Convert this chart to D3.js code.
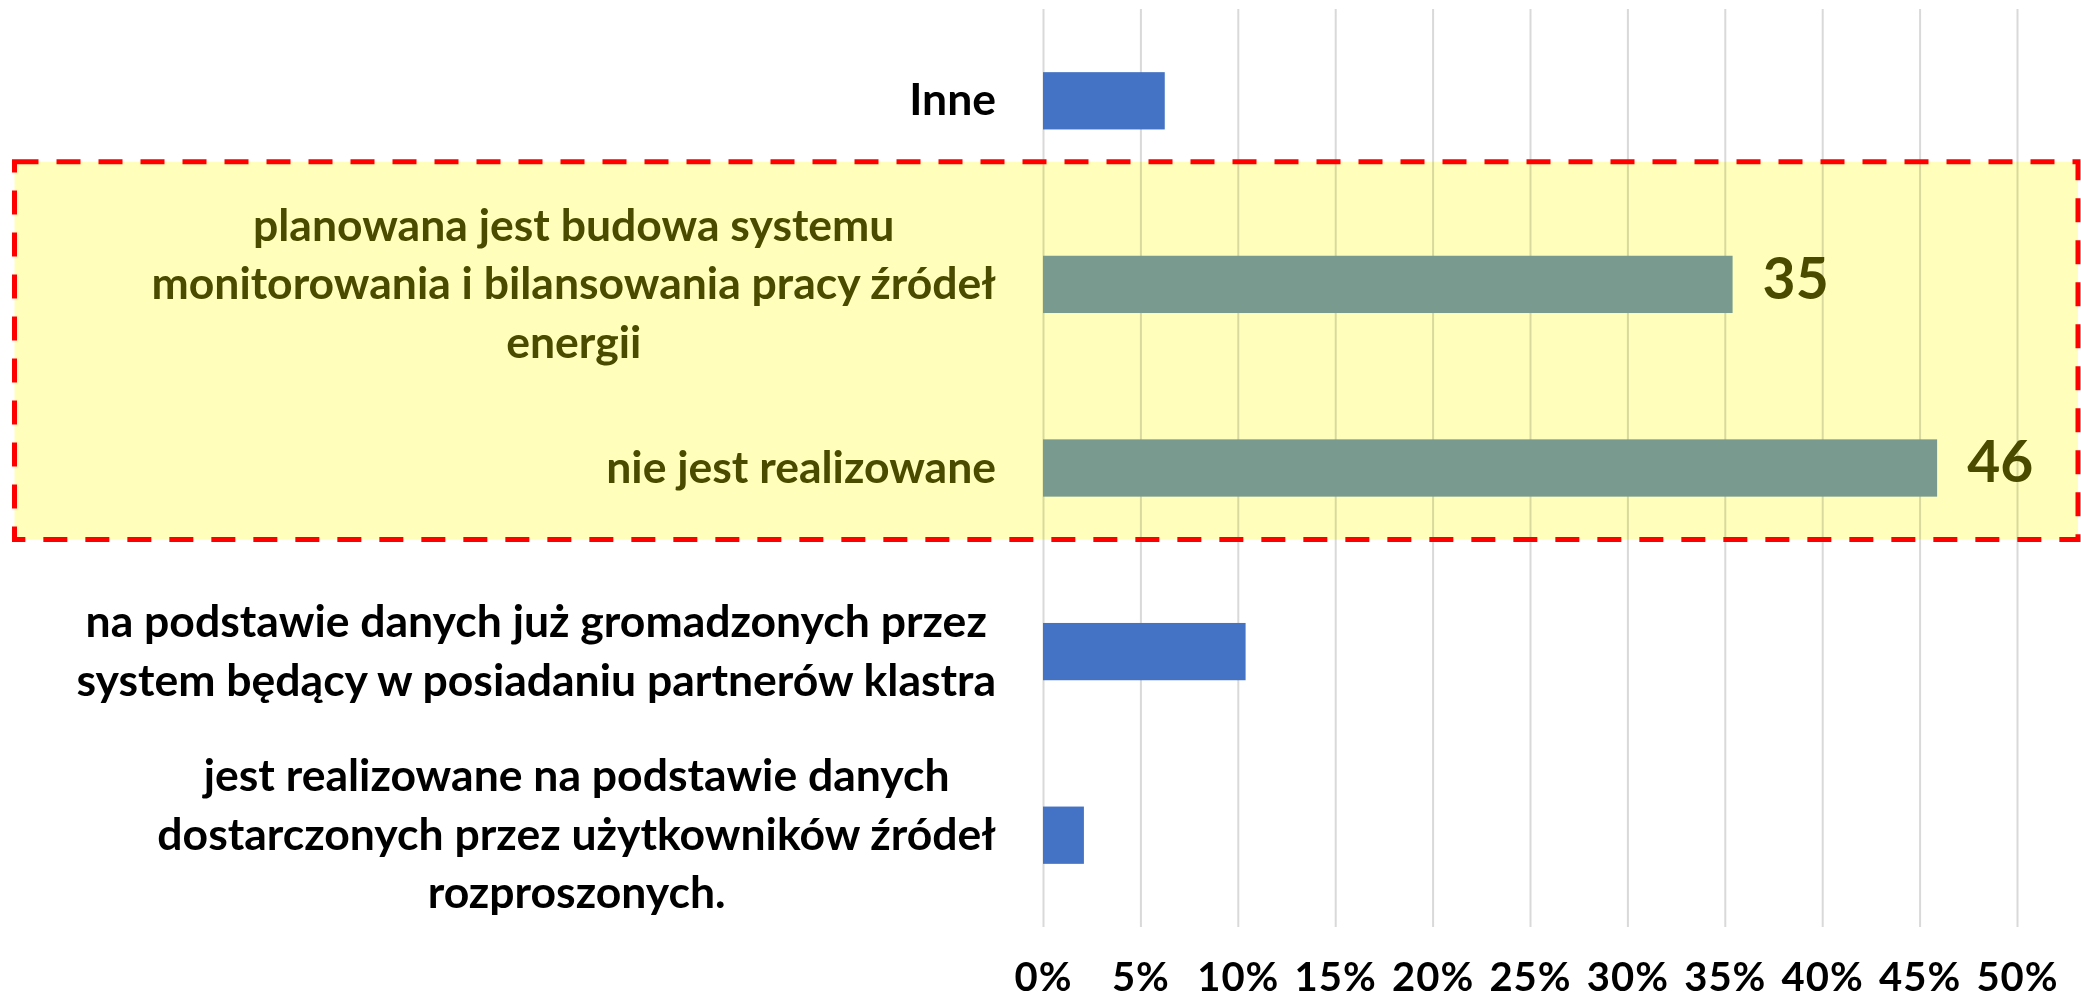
<!DOCTYPE html>
<html>
<head>
<meta charset="utf-8">
<script src="https://cdn.jsdelivr.net/npm/d3@7"></script>
<style>
  html, body { margin: 0; padding: 0; background: #ffffff; }
  svg { display: block; }
  text { font-family: Lato, "Open Sans", "Noto Sans", sans-serif; font-weight: 700; }
</style>
</head>
<body>
<svg id="chart" width="2081" height="999"></svg>
<script>
// ---- data ----
const categories = [
  "Inne",
  "planowana jest budowa systemu\nmonitorowania i bilansowania pracy źródeł\nenergii",
  "nie jest realizowane",
  "na podstawie danych już gromadzonych przez\nsystem będący w posiadaniu partnerów klastra",
  "jest realizowane na podstawie danych\ndostarczonych przez użytkowników źródeł\nrozproszonych."
];
const values = [6.25, 35.4, 45.9, 10.4, 2.1];
const valueLabels = ["", "35", "46", "", ""];
const highlighted = [false, true, true, false, false];
const tickValues = [0, 5, 10, 15, 20, 25, 30, 35, 40, 45, 50];
const tickLabels = ["0%", "5%", "10%", "15%", "20%", "25%", "30%", "35%", "40%", "45%", "50%"];

// ---- layout ----
const W = 2081, H = 999;
const plotLeft = 1043, plotRight = 2017, plotTop = 9, plotBottom = 927;
const labelRight = 996;
const catFont = 44.5, tickFont = 40, valueFont = 57, lineH = 58.5;

const svg = d3.select("#chart");

const x = d3.scaleLinear().domain([0, 50]).range([plotLeft, plotRight]);
const y = d3.scaleBand().domain(categories).range([plotTop, plotBottom])
  .paddingInner(0.688).paddingOuter(0.344);
const yc = c => y(c) + y.bandwidth() / 2;

// highlight box
const hiCats = categories.filter((c, i) => highlighted[i]);
const boxTop = yc(hiCats[0]) - 0.668 * y.step();
const boxBottom = yc(hiCats[hiCats.length - 1]) + 0.39 * y.step();
svg.append("rect")
  .attr("x", 14.5).attr("y", boxTop)
  .attr("width", 2078 - 14.5).attr("height", boxBottom - boxTop)
  .attr("fill", "#FFFFBB");

// gridlines
const grid = svg.append("g")
  .attr("transform", `translate(0,${plotBottom})`)
  .call(d3.axisBottom(x).tickValues(tickValues).tickSize(-(plotBottom - plotTop)).tickFormat(""));
grid.select(".domain").remove();
grid.selectAll(".tick line").attr("stroke", "#D9D9D9").attr("stroke-width", 2)
  .style("mix-blend-mode", "multiply");

// box border (dashed)
svg.append("rect")
  .attr("x", 14.5).attr("y", boxTop)
  .attr("width", 2078 - 14.5).attr("height", boxBottom - boxTop)
  .attr("fill", "none")
  .attr("stroke", "#FF0000").attr("stroke-width", 5)
  .attr("stroke-dasharray", "24,18");

// bars
svg.append("g").selectAll("rect")
  .data(categories)
  .join("rect")
  .attr("x", x(0))
  .attr("y", d => y(d))
  .attr("width", (d, i) => x(values[i]) - x(0))
  .attr("height", y.bandwidth())
  .attr("fill", (d, i) => highlighted[i] ? "#789A8F" : "#4472C4");

// value labels
svg.append("g").selectAll("text")
  .data(categories)
  .join("text")
  .attr("x", (d, i) => x(values[i]) + 30)
  .attr("y", d => yc(d) + 0.25 * valueFont)
  .attr("font-size", valueFont)
  .attr("font-weight", 900)
  .attr("fill", "#4B4B00")
  .text((d, i) => valueLabels[i]);

// category labels (lines centered within a right-aligned block)
const catG = svg.append("g");
categories.forEach((c, i) => {
  const lines = c.split("\n");
  const t = catG.append("text")
    .attr("font-size", catFont)
    .attr("fill", highlighted[i] ? "#4B4B00" : "#000000")
    .attr("text-anchor", "middle");
  const c0 = yc(c) - (lines.length - 1) * lineH / 2;
  const spans = lines.map((ln, k) => t.append("tspan")
    .attr("y", c0 + k * lineH + 0.33 * catFont)
    .text(ln));
  let maxW = 0;
  spans.forEach(s => { maxW = Math.max(maxW, s.node().getComputedTextLength()); });
  spans.forEach(s => s.attr("x", labelRight - maxW / 2));
});

// x axis tick labels
const ax = svg.append("g")
  .attr("transform", `translate(0,${plotBottom})`)
  .call(d3.axisBottom(x).tickValues(tickValues).tickSize(0)
    .tickFormat((d, i) => tickLabels[i]));
ax.select(".domain").remove();
ax.selectAll(".tick text")
  .attr("y", 991 - plotBottom).attr("dy", null)
  .attr("font-size", tickFont)
  .attr("font-family", "Lato, 'Open Sans', sans-serif")
  .attr("font-weight", 900)
  .attr("letter-spacing", 1)
  .attr("fill", "#000000");
</script>
</body>
</html>
